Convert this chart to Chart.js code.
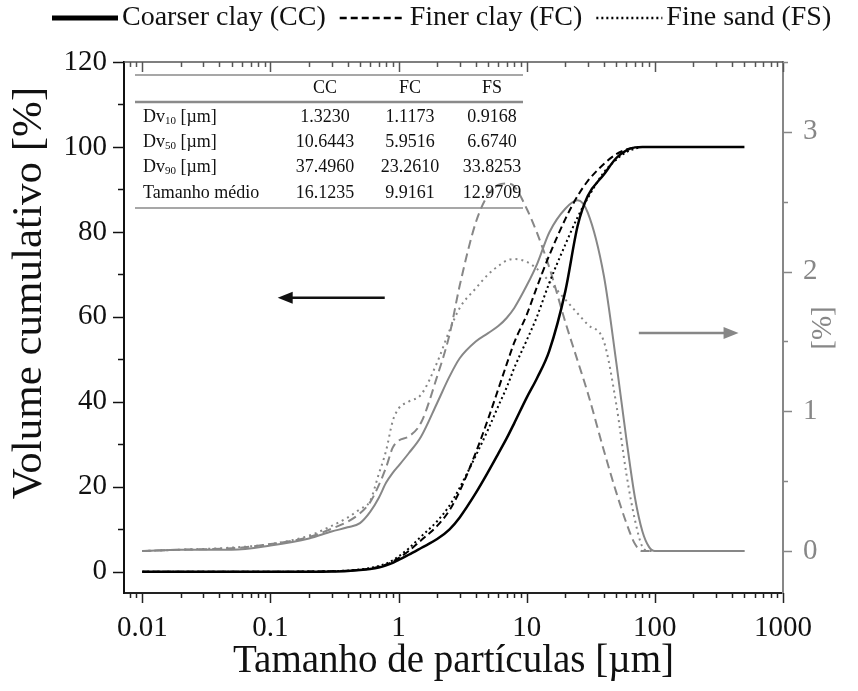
<!DOCTYPE html>
<html>
<head>
<meta charset="utf-8">
<script src="https://cdn.jsdelivr.net/npm/chart.js@4/dist/chart.umd.min.js"></script>
<style>
  html, body { margin: 0; padding: 0; background: #fff; }
</style>
</head>
<body>
<canvas id="chart" width="858" height="691"></canvas>
<script>
const FONT = "'Liberation Serif', 'Times New Roman', serif";
const GRAY = "#878787";

// particle size classes [µm]
const sizes = [0.01, 0.02, 0.05, 0.1, 0.2, 0.3, 0.4, 0.5, 0.6, 0.7, 0.8, 0.9, 1, 1.2, 1.5, 2, 2.5, 3, 4, 5, 6, 7, 8, 10, 12, 15, 20, 25, 30, 40, 50, 60, 70, 80, 90, 100, 200, 500];

// cumulative volume [%] (left axis)
const ccCum = [0, 0, 0, 0, 0.02, 0.08, 0.2, 0.4, 0.65, 1.0, 1.5, 2.1, 2.8, 4.0, 5.6, 7.7, 10, 12.8, 18.5, 23.5, 27.8, 31.5, 35, 41, 45.5, 52, 66, 81.5, 88.5, 93.5, 97.4, 99.2, 99.9, 100, 100, 100, 100, 100];
const fcCum = [0, 0, 0, 0.01, 0.05, 0.12, 0.25, 0.45, 0.75, 1.15, 1.7, 2.4, 3.2, 4.9, 7.4, 10.8, 14.5, 19, 28, 36, 43, 49, 54, 60.5, 67, 74.5, 83, 88.5, 92, 96, 98.3, 99.4, 99.9, 100, 100, 100, 100, 100];
const fsCum = [0, 0, 0, 0.01, 0.06, 0.15, 0.3, 0.55, 0.9, 1.35, 1.95, 2.7, 3.6, 5.5, 8.3, 11.9, 15.6, 19.8, 27.3, 33.5, 39, 43.5, 48, 54.5, 60, 68, 77, 83.5, 88, 94, 97, 98.8, 99.6, 100, 100, 100, 100, 100];

// volume frequency [%] (right axis)
const ccFreq = [0, 0.01, 0.01, 0.04, 0.09, 0.14, 0.17, 0.2, 0.28, 0.38, 0.49, 0.56, 0.61, 0.7, 0.82, 1.06, 1.25, 1.38, 1.5, 1.56, 1.61, 1.67, 1.74, 1.9, 2.05, 2.28, 2.45, 2.51, 2.42, 1.97, 1.35, 0.8, 0.38, 0.14, 0.03, 0, 0, 0];
const fcFreq = [0, 0.01, 0.02, 0.05, 0.1, 0.16, 0.21, 0.27, 0.35, 0.47, 0.6, 0.74, 0.79, 0.82, 0.92, 1.25, 1.55, 1.9, 2.35, 2.55, 2.62, 2.63, 2.61, 2.45, 2.28, 2.03, 1.64, 1.36, 1.13, 0.72, 0.42, 0.2, 0.05, 0, 0, 0, 0, 0];
const fsFreq = [0, 0.01, 0.025, 0.05, 0.11, 0.18, 0.24, 0.3, 0.36, 0.55, 0.72, 0.93, 1.02, 1.07, 1.12, 1.35, 1.58, 1.74, 1.88, 1.98, 2.04, 2.08, 2.09, 2.07, 2.02, 1.93, 1.8, 1.7, 1.62, 1.5, 1.05, 0.55, 0.22, 0.03, 0, 0, 0, 0];

// axis ticks
const xTicks = [0.01, 0.1, 1, 10, 100, 1000];
const yTicks = [0, 20, 40, 60, 80, 100, 120];
const y2Ticks = [0, 1, 2, 3];

// inset table
const tableCols = ["CC", "FC", "FS"];
const tableRows = ["10", "50", "90", "Tamanho médio"];
const dv10 = ["1.3230", "1.1173", "0.9168"];
const dv50 = ["10.6443", "5.9516", "6.6740"];
const dv90 = ["37.4960", "23.2610", "33.8253"];
const meanSize = ["16.1235", "9.9161", "12.9709"];

const pts = vals => sizes.map((s, i) => ({ x: s, y: vals[i] }));

function line(ctx, x0, y0, x1, y1) {
    ctx.beginPath();
    ctx.moveTo(x0, y0);
    ctx.lineTo(x1, y1);
    ctx.stroke();
}

function arrow(ctx, x0, x1, y, color) {
    const dir = x1 > x0 ? 1 : -1;
    ctx.strokeStyle = color;
    ctx.fillStyle = color;
    ctx.lineWidth = 2.5;
    line(ctx, x0, y, x1 - dir * 12, y);
    ctx.beginPath();
    ctx.moveTo(x1, y);
    ctx.lineTo(x1 - dir * 15, y - 6);
    ctx.lineTo(x1 - dir * 15, y + 6);
    ctx.closePath();
    ctx.fill();
}

const decor = {
    id: "decor",
    afterDraw(chart) {
        const ctx = chart.ctx;
        const ca = chart.chartArea;
        const sx = chart.scales.x, sy = chart.scales.y, sy2 = chart.scales.y2;
        ctx.save();
        ctx.setLineDash([]);

        // top frame line
        ctx.strokeStyle = "#555";
        ctx.lineWidth = 1.5;
        line(ctx, ca.left, ca.top, ca.right, ca.top);

        // log ticks, bottom (outward) and top (inward)
        for (let k = -3; k <= 3; k++) {
            for (let m = 1; m <= 9; m++) {
                const v = m * Math.pow(10, k);
                if (v < sx.min || v > sx.max) continue;
                const px = Math.round(sx.getPixelForValue(v)) + 0.5;
                const len = m === 1 ? 10 : 5;
                ctx.strokeStyle = "#222";
                line(ctx, px, ca.bottom, px, ca.bottom + len);
                ctx.strokeStyle = "#555";
                line(ctx, px, ca.top, px, ca.top + len);
            }
        }
        // left ticks
        ctx.strokeStyle = "#111";
        for (let v = 0; v <= 120; v += 10) {
            const py = Math.round(sy.getPixelForValue(v)) + 0.5;
            line(ctx, ca.left, py, ca.left - (v % 20 === 0 ? 11 : 6), py);
        }
        // right ticks
        ctx.strokeStyle = GRAY;
        for (let v = 0; v <= 3.5; v += 0.5) {
            const py = Math.round(sy2.getPixelForValue(v)) + 0.5;
            line(ctx, ca.right, py, ca.right + (v % 1 === 0 ? 9 : 5), py);
        }

        // arrows pointing to each axis
        const yl = sy.getPixelForValue(64.5);
        arrow(ctx, sx.getPixelForValue(0.78), sx.getPixelForValue(0.114), yl, "#111");
        const yr = sy2.getPixelForValue(1.56);
        arrow(ctx, sx.getPixelForValue(75), sx.getPixelForValue(450), yr, GRAY);

        // axis titles
        ctx.fillStyle = "#111";
        ctx.font = "43px " + FONT;
        ctx.textAlign = "center";
        ctx.textBaseline = "middle";
        ctx.save();
        ctx.translate(30, 293);
        ctx.rotate(-Math.PI / 2);
        ctx.fillText("Volume cumulativo [%]", 0, 0);
        ctx.restore();
        ctx.fillStyle = GRAY;
        ctx.font = "29px " + FONT;
        ctx.save();
        ctx.translate(ca.right + 40, 328);
        ctx.rotate(-Math.PI / 2);
        ctx.fillText("[%]", 0, 0);
        ctx.restore();

        // inset table
        const tx0 = ca.left + 11, tx1 = ca.left + 399;
        ctx.strokeStyle = "#8a8a8a";
        ctx.lineWidth = 1.5;
        line(ctx, tx0, ca.top + 13, tx1, ca.top + 13);
        ctx.lineWidth = 2.5;
        line(ctx, tx0, ca.top + 40, tx1, ca.top + 40);
        ctx.lineWidth = 1.5;
        line(ctx, tx0, ca.top + 146, tx1, ca.top + 146);

        const colX = [ca.left + 201, ca.left + 286, ca.left + 368];
        const rowY = [ca.top + 55, ca.top + 80, ca.top + 105, ca.top + 131];
        const rowVals = [dv10, dv50, dv90, meanSize];
        ctx.fillStyle = "#111";
        ctx.font = "18px " + FONT;
        ctx.textAlign = "center";
        tableCols.forEach((c, j) => ctx.fillText(c, colX[j], ca.top + 26));
        rowVals.forEach((vals, i) => {
            vals.forEach((v, j) => ctx.fillText(v, colX[j], rowY[i]));
        });
        ctx.textAlign = "left";
        tableRows.forEach((r, i) => {
            let x = ca.left + 19;
            ctx.font = "18px " + FONT;
            if (i === 3) {
                ctx.fillText(r, x, rowY[i]);
                return;
            }
            ctx.fillText("Dv", x, rowY[i]);
            x += ctx.measureText("Dv").width;
            ctx.font = "11px " + FONT;
            ctx.fillText(r, x, rowY[i] + 4);
            x += ctx.measureText(r).width;
            ctx.font = "18px " + FONT;
            ctx.fillText(" [µm]", x, rowY[i]);
        });

        // legend for the cumulative curves
        let lx = 52;
        const ly = 18;
        ctx.font = "28px " + FONT;
        ctx.textBaseline = "middle";
        [0, 1, 2].forEach(i => {
            const ds = chart.data.datasets[i];
            ctx.strokeStyle = ds.borderColor;
            ctx.lineWidth = i === 0 ? 5 : 2.5;
            ctx.setLineDash(ds.borderDash || []);
            line(ctx, lx, ly, lx + 66, ly);
            ctx.setLineDash([]);
            lx += 70;
            ctx.fillStyle = "#111";
            ctx.fillText(ds.label, lx, ly);
            lx += ctx.measureText(ds.label).width + 14;
        });
        ctx.restore();
    }
};

new Chart(document.getElementById("chart"), {
    type: "line",
    data: {
        datasets: [
            { label: "Coarser clay (CC)", data: pts(ccCum), borderColor: "#000", borderWidth: 2.5, yAxisID: "y" },
            { label: "Finer clay (FC)", data: pts(fcCum), borderColor: "#000", borderWidth: 2, borderDash: [7, 4], yAxisID: "y" },
            { label: "Fine sand (FS)", data: pts(fsCum), borderColor: "#000", borderWidth: 2, borderDash: [2, 3], yAxisID: "y" },
            { label: "CC", data: pts(ccFreq), borderColor: GRAY, borderWidth: 2, yAxisID: "y2" },
            { label: "FC", data: pts(fcFreq), borderColor: GRAY, borderWidth: 2, borderDash: [9, 5], yAxisID: "y2" },
            { label: "FS", data: pts(fsFreq), borderColor: GRAY, borderWidth: 2, borderDash: [2, 4], yAxisID: "y2" }
        ]
    },
    options: {
        responsive: false,
        devicePixelRatio: 1,
        animation: false,
        layout: { padding: { top: 62, left: 0, right: 0, bottom: 0 } },
        elements: {
            point: { radius: 0 },
            line: { cubicInterpolationMode: "monotone", fill: false }
        },
        plugins: {
            legend: { display: false },
            tooltip: { enabled: false }
        },
        scales: {
            x: {
                type: "logarithmic",
                position: "bottom",
                min: 0.0072,
                max: 1000,
                afterBuildTicks: s => { s.ticks = xTicks.map(v => ({ value: v })); },
                afterFit: s => { s.height = 98; },
                grid: { display: false, drawTicks: false },
                border: { display: true, color: "#222", width: 2 },
                ticks: {
                    autoSkip: false,
                    maxRotation: 0,
                    padding: 18,
                    color: "#111",
                    font: { family: FONT, size: 29 },
                    callback: v => String(v)
                },
                title: {
                    display: true,
                    text: "Tamanho de partículas [µm]",
                    color: "#111",
                    font: { family: FONT, size: 39 },
                    padding: { top: 0, bottom: 6 }
                }
            },
            y: {
                position: "left",
                min: -5,
                max: 120,
                afterBuildTicks: s => { s.ticks = yTicks.map(v => ({ value: v })); },
                afterFit: s => { s.width = 124; },
                grid: { display: false, drawTicks: false },
                border: { display: true, color: "#111", width: 2 },
                ticks: { padding: 17, color: "#111", font: { family: FONT, size: 29 } }
            },
            y2: {
                position: "right",
                min: -0.3,
                max: 3.5,
                afterBuildTicks: s => { s.ticks = y2Ticks.map(v => ({ value: v })); },
                afterFit: s => { s.width = 75; },
                grid: { display: false, drawTicks: false },
                border: { display: true, color: GRAY, width: 2 },
                ticks: { padding: 20, color: GRAY, font: { family: FONT, size: 29 } }
            }
        }
    },
    plugins: [decor]
});
</script>
</body>
</html>
